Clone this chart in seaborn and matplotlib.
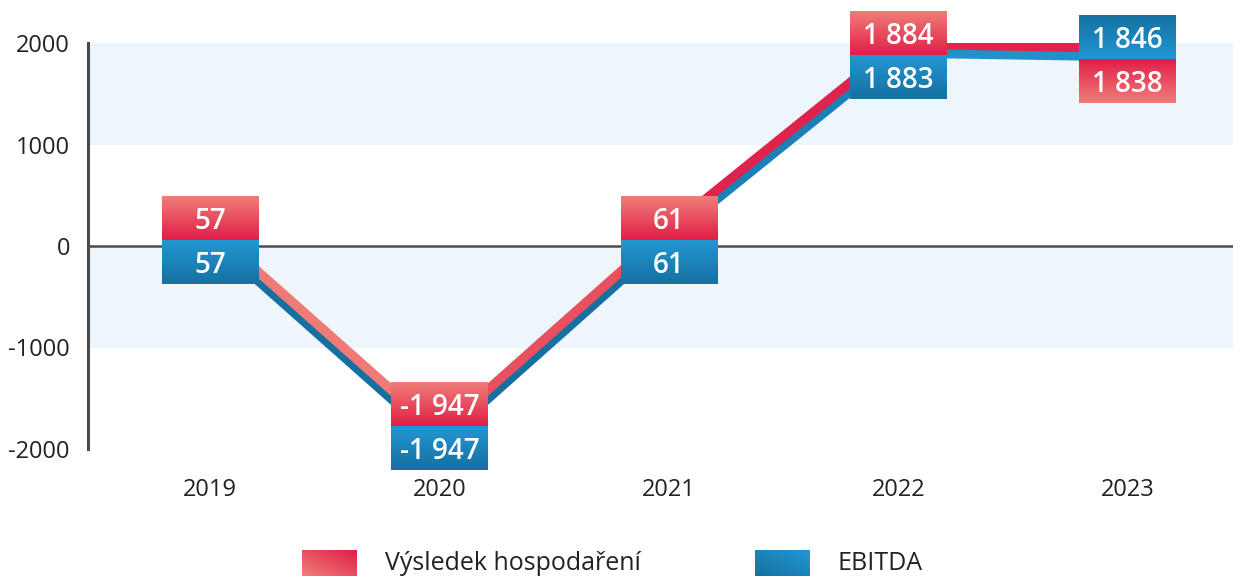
import numpy as np
import pandas as pd
import matplotlib
matplotlib.use("Agg")
import matplotlib.pyplot as plt
import matplotlib.transforms as mtransforms
from matplotlib.colors import LinearSegmentedColormap
import seaborn as sns

# ---------------- data ----------------
years = ["2019", "2020", "2021", "2022", "2023"]
vysledek = [57, -1947, 61, 1884, 1838]
ebitda = [57, -1947, 61, 1883, 1846]
series_names = ["Výsledek hospodaření", "EBITDA"]
y_ticks = [-2000, -1000, 0, 1000, 2000]

# ---------------- style ----------------
sns.set_theme(style="white")
plt.rcParams["font.family"] = ["Open Sans", "DejaVu Sans"]

RED_IN, RED_OUT = "#E01E48", "#F07E78"
BLUE_IN, BLUE_OUT = "#2396D3", "#1571A1"
red_seg_colors = ["#F07B76", "#E8505F", "#E0234C", "#E0234C"]
blue_seg_colors = ["#1570A1", "#1570A1", "#1A80B8", "#2190CB"]

W, H = 1233, 576
fig = plt.figure(figsize=(W / 100, H / 100), dpi=100)
ax = fig.add_axes([88 / W, 1 - 449 / H, 1 - 88 / W, (449 - 43) / H])

pos = np.arange(len(years))
xlim = (-0.533, 4.46)
ylim = (-2000, 2000)

# background bands
ax.axhspan(1000, 2000, color="#EEF6FC", zorder=0, lw=0)
ax.axhspan(-1000, 0, color="#EEF6FC", zorder=0, lw=0)
ax.axhline(0, color="#4a4a4a", lw=1.8, zorder=1.5)

# lines: one seaborn line per segment, so each segment gets its colour
def seg_frame(vals, name):
    rows = []
    for i in range(len(vals) - 1):
        for j in (i, i + 1):
            rows.append({"x": pos[j], "y": vals[j], "seg": f"{name}{i}"})
    return pd.DataFrame(rows)

def shift(px):
    return ax.transData + mtransforms.ScaledTranslation(0, px / 100, fig.dpi_scale_trans)

for vals, name, cols, dy, z in [(ebitda, "b", blue_seg_colors, 2, 2),
                                (vysledek, "r", red_seg_colors, 11, 3)]:
    df = seg_frame(vals, name)
    pal = {f"{name}{i}": c for i, c in enumerate(cols)}
    n_before = len(ax.lines)
    sns.lineplot(data=df, x="x", y="y", hue="seg", palette=pal, sort=False,
                 linewidth=6.8, legend=False, ax=ax, estimator=None)
    for ln in ax.lines[n_before:]:
        ln.set_transform(shift(dy))
        ln.set_zorder(z)
        ln.set_solid_capstyle("round")

# label boxes
red_cmap = LinearSegmentedColormap.from_list("r", [RED_IN, RED_OUT])
blue_cmap = LinearSegmentedColormap.from_list("b", [BLUE_IN, BLUE_OUT])
box_w = 0.42
box_h = 433
grad = np.linspace(0, 1, 100).reshape(-1, 1)

def fmt(v):
    s = f"{abs(v):,}".replace(",", " ")
    return ("-" if v < 0 else "") + s

for i, (r, b) in enumerate(zip(vysledek, ebitda)):
    junction = max((r + b) / 2, -1770)
    red_top = r >= b
    for val, cmap, upper in [(r, red_cmap, red_top), (b, blue_cmap, not red_top)]:
        if upper:
            y0, y1 = junction, junction + box_h
            g = grad
        else:
            y0, y1 = junction - box_h, junction
            g = grad[::-1]
        ax.imshow(g, cmap=cmap, extent=[i - box_w / 2, i + box_w / 2, y0, y1],
                  origin="lower", aspect="auto", zorder=5, clip_on=False,
                  interpolation="bilinear")
        ax.text(i, (y0 + y1) / 2, fmt(val), ha="center", va="center_baseline",
                color="white", fontsize=20, fontweight="semibold", zorder=6,
                clip_on=False)

ax.set_xlim(*xlim)
ax.set_ylim(*ylim)
ax.set_aspect("auto")

ax.set_xticks(pos)
ax.set_xticklabels(years)
ax.set_yticks(y_ticks)
ax.set_yticklabels([str(t) for t in y_ticks])
ax.tick_params(axis="y", length=0, pad=13, labelsize=17, labelcolor="#222222")
ax.tick_params(axis="x", length=0, pad=21, labelsize=17, labelcolor="#222222")
ax.set_xlabel("")
ax.set_ylabel("")
ax.grid(False)
for s in ["top", "right", "bottom"]:
    ax.spines[s].set_visible(False)
ax.spines["left"].set_color("#4a4a4a")
ax.spines["left"].set_linewidth(2.2)
ax.set_facecolor("none")

# legend (manual, gradient patches)
diag = np.add.outer(np.linspace(1, 0, 30), np.linspace(0, 1, 60)) / 2
legend_items = [
    (series_names[0], LinearSegmentedColormap.from_list("lr", [RED_OUT, RED_IN]), 302, 385),
    (series_names[1], LinearSegmentedColormap.from_list("lb", [BLUE_OUT, BLUE_IN]), 755, 838),
]
for label, cmap, px, tx in legend_items:
    lax = fig.add_axes([px / W, 0, 55 / W, 26 / H])
    lax.imshow(diag, cmap=cmap, aspect="auto", interpolation="bilinear")
    lax.set_axis_off()
    fig.text(tx / W, 1 - 563 / H, label, ha="left", va="center",
             fontsize=18, color="#222222")

fig.savefig("out.png", dpi=100)
